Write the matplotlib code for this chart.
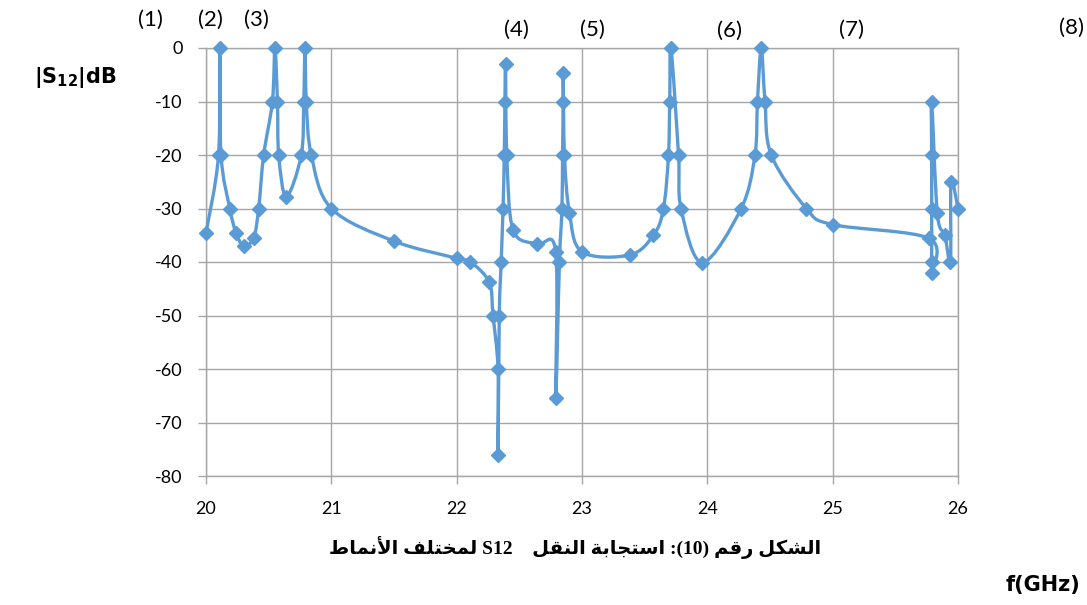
import numpy as np
import matplotlib
matplotlib.use('Agg')
import matplotlib.pyplot as plt
from matplotlib.path import Path
from matplotlib.patches import PathPatch

# Measured transmission |S12| versus frequency
freq_ghz = [20.00, 20.10, 20.11, 20.12, 20.19, 20.24, 20.30, 20.38, 20.42,
            20.46, 20.53, 20.55, 20.57, 20.58, 20.64,
            20.76, 20.78, 20.79, 20.80, 20.84, 21.00, 21.50, 22.00, 22.11,
            22.26, 22.29, 22.33, 22.33, 22.34, 22.355, 22.37, 22.38, 22.385,
            22.39, 22.40, 22.45, 22.64, 22.79, 22.79,
            22.82, 22.84, 22.845, 22.85, 22.85, 22.86, 22.90, 23.00,
            23.38, 23.57, 23.65, 23.69, 23.70, 23.71, 23.77, 23.79, 23.96,
            24.27, 24.38, 24.40, 24.43, 24.46, 24.51, 24.79, 25.00,
            25.77, 25.79, 25.79, 25.79, 25.79, 25.79, 25.835, 25.895, 25.94,
            25.945, 26.00]
s12_db = [-34.6, -20, 0, -20, -30, -34.6, -37.0, -35.5, -30,
          -20, -10, 0, -10, -20, -27.8,
          -20, -10, 0, -10, -20, -30, -36.1, -39.3, -40.0,
          -43.8, -50, -60, -76.1, -50, -40, -30, -20, -10,
          -3.0, -20, -34.0, -36.7, -38.1, -65.5,
          -40, -30, -20, -10, -4.6, -20, -30.8, -38.1,
          -38.7, -35.0, -30, -20, -10, 0, -20, -30, -40.1,
          -30, -20, -10, 0, -10, -20, -30, -33.0,
          -35.6, -42.1, -40, -30, -20, -10, -30.9, -35.0, -40,
          -25.0, -30]

mode_labels = ['(1)', '(2)', '(3)', '(4)', '(5)', '(6)', '(7)', '(8)']
mode_xy = [(150, 20), (210, 20), (256, 20), (516, 30), (592, 30),
           (730, 31), (851, 30), (1071, 28)]

blue = '#5B9BD5'
grid_c = '#A6A6A6'
W, H = 1087, 605

plt.rcParams['axes.unicode_minus'] = False

fig = plt.figure(figsize=(W / 100, H / 100), dpi=100)
ax = fig.add_axes([206 / W, 1 - 476 / H, (958 - 206) / W, (476 - 48) / H])
ax.set_xlim(20, 26)
ax.set_ylim(-80, 0)
ax.set_xticks(range(20, 27))
ax.set_yticks(range(-80, 1, 10))
ax.grid(True, color=grid_c, linewidth=1.0)
ax.set_axisbelow(True)
for s in ax.spines.values():
    s.set_color(grid_c)
    s.set_linewidth(1.0)
ax.tick_params(colors=grid_c, labelcolor='black', labelsize=13,
               length=6, width=1.0)
ax.tick_params(axis='y', pad=11)
ax.tick_params(axis='x', pad=12)
for lab in ax.get_xticklabels() + ax.get_yticklabels():
    lab.set_family('Lato')


def smooth_path(ax, x, y):
    # Catmull-Rom style Bezier through the points, built in pixel space
    pts = ax.transData.transform(np.column_stack([x, y]))
    n = len(pts)
    verts = [pts[0]]
    codes = [Path.MOVETO]
    for i in range(n - 1):
        p0 = pts[i - 1] if i > 0 else pts[i]
        p1 = pts[i]
        p2 = pts[i + 1]
        p3 = pts[i + 2] if i + 2 < n else pts[i + 1]
        c1 = p1 + (p2 - p0) / 6.0
        c2 = p2 - (p3 - p1) / 6.0
        verts += [c1, c2, p2]
        codes += [Path.CURVE4] * 3
    verts = ax.transData.inverted().transform(np.array(verts))
    return Path(verts, codes)


ax.add_patch(PathPatch(smooth_path(ax, freq_ghz, s12_db), facecolor='none',
                       edgecolor=blue, linewidth=2.4, capstyle='round',
                       joinstyle='round', clip_on=False, zorder=3))
ax.plot(freq_ghz, s12_db, linestyle='none', marker='D', markersize=7,
        color=blue, clip_on=False, zorder=4)

for lab, (px, py) in zip(mode_labels, mode_xy):
    fig.text(px / W, 1 - py / H, lab, ha='center', va='center',
             fontsize=16, family='Lato')

fig.text(75 / W, 1 - 77 / H, r'|S$_{\mathbf{12}}$|dB', ha='center',
         va='center', fontsize=15, fontweight='bold', family='DejaVu Sans')
fig.text(1080 / W, 1 - 585 / H, 'f(GHz)', ha='right', va='center',
         fontsize=15, fontweight='bold', family='DejaVu Sans')

# Caption in Arabic, shaped with presentation forms in visual order
caption = ('\uFEC1\uFE8E\uFEE4\uFEE7\uFEF7\uFE8D '
           '\uFED2\uFEE0\uFE98\uFEA8\uFEE4\uFEDF S12    '
           '\uFEDE\uFED8\uFEE8\uFEDF\uFE8D '
           '\uFE94\uFE91\uFE8E\uFEA0\uFE98\uFEB3\uFE8D '
           ':(10) '
           '\uFEE2\uFED7\uFEAD '
           '\uFEDE\uFEDC\uFEB8\uFEDF\uFE8D')
fig.text(575 / W, 1 - 548 / H, caption, ha='center', va='center',
         fontsize=14, fontweight='bold',
         family=['Liberation Serif', 'DejaVu Sans'])

fig.savefig('out.png', dpi=100)
